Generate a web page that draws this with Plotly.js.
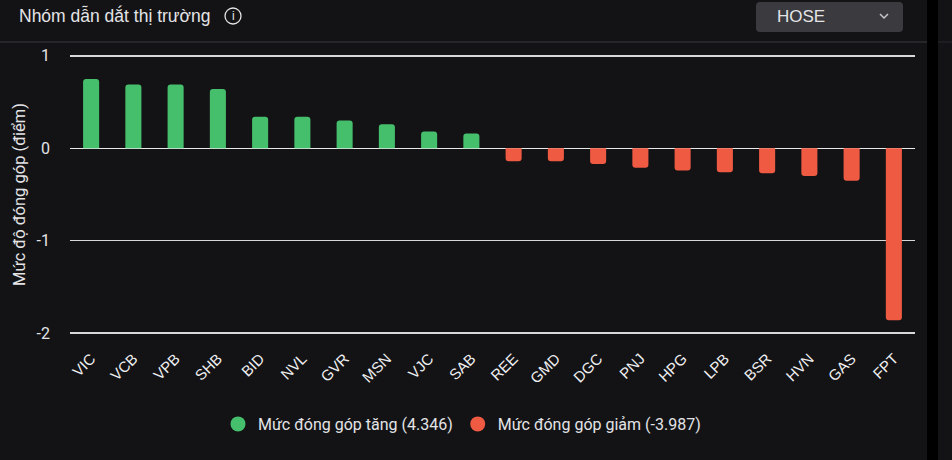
<!DOCTYPE html>
<html>
<head>
<meta charset="utf-8">
<script src="https://cdn.plot.ly/plotly-3.0.1.min.js"></script>
<style>
  html, body { margin: 0; padding: 0; background: #131316; }
  #chart { width: 952px; height: 460px; }
</style>
</head>
<body>
<div id="chart"></div>
<script>
// Mức đóng góp theo mã (điểm)
const gainTickers = ['VIC', 'VCB', 'VPB', 'SHB', 'BID', 'NVL', 'GVR', 'MSN', 'VJC', 'SAB'];
const gainValues = [0.75, 0.69, 0.69, 0.64, 0.34, 0.34, 0.30, 0.26, 0.18, 0.16];
const lossTickers = ['REE', 'GMD', 'DGC', 'PNJ', 'HPG', 'LPB', 'BSR', 'HVN', 'GAS', 'FPT'];
const lossValues = [-0.14, -0.14, -0.17, -0.21, -0.24, -0.26, -0.27, -0.30, -0.35, -1.86];
const yTickVals = [1, 0, -1, -2];
const yTickText = ['1', '0', '-1', '-2'];
const gainName = 'Mức đóng góp tăng (4.346)';
const lossName = 'Mức đóng góp giảm (-3.987)';

const W = 952, H = 460;
const M = { l: 70, r: 37, t: 53, b: 124 };
const PW = W - M.l - M.r;
const PH = H - M.t - M.b;
const px = x => (x - M.l) / PW;
const py = y => (H - M.b - y) / PH;

const green = '#46bf6c';
const red = '#ef5a43';
const textColor = '#e4e4e6';

const traces = [
  {
    type: 'bar', x: gainTickers, y: gainValues, name: gainName,
    marker: { color: green, cornerradius: 3 }, width: 0.38,
    showlegend: false, hoverinfo: 'x+y',
  },
  {
    type: 'bar', x: lossTickers, y: lossValues, name: lossName,
    marker: { color: red, cornerradius: 3 }, width: 0.38,
    showlegend: false, hoverinfo: 'x+y',
  },
  // legend entries with round markers
  {
    type: 'scatter', mode: 'markers', x: [null], y: [null], name: gainName,
    marker: { color: green, size: 15, symbol: 'circle' },
  },
  {
    type: 'scatter', mode: 'markers', x: [null], y: [null], name: lossName,
    marker: { color: red, size: 15, symbol: 'circle' },
  },
];

const layout = {
  width: W,
  height: H,
  margin: M,
  paper_bgcolor: '#131316',
  plot_bgcolor: '#131316',
  font: { family: 'Roboto, Arial, sans-serif', color: textColor, size: 13 },
  xaxis: {
    type: 'category',
    categoryorder: 'array',
    categoryarray: gainTickers.concat(lossTickers),
    tickangle: -45,
    tickfont: { family: 'Arial, "Liberation Sans", sans-serif', size: 15, color: '#f0f0f2' },
    ticklabelstandoff: 10,
    showgrid: false,
    showline: false,
    ticks: '',
    fixedrange: true,
  },
  yaxis: {
    range: [-2.03, 1.03],
    tickvals: yTickVals,
    ticktext: yTickText,
    tickfont: { size: 16, color: textColor },
    ticklabelstandoff: 19,
    gridcolor: '#d8d8d8',
    gridwidth: 1.5,
    zeroline: true,
    zerolinecolor: '#e8e8e8',
    zerolinewidth: 1.5,
    ticks: '',
    title: { text: 'Mức độ đóng góp (điểm)', font: { size: 16.5, color: textColor }, standoff: 6 },
    fixedrange: true,
  },
  legend: {
    orientation: 'h',
    x: px(462), xanchor: 'center',
    y: py(424), yanchor: 'middle',
    font: { family: 'Roboto, sans-serif', size: 16, color: textColor },
    itemwidth: 30,
    bgcolor: 'rgba(0,0,0,0)',
  },
  shapes: [
    // header separator
    { type: 'line', xref: 'paper', yref: 'paper', x0: px(0), x1: px(928), y0: py(42), y1: py(42),
      line: { color: '#3a3a3e', width: 1 } },
    { type: 'line', xref: 'paper', yref: 'paper', x0: px(938), x1: px(952), y0: py(42), y1: py(42),
      line: { color: '#2a2a2e', width: 1 } },
    // right dark strip
    { type: 'rect', xref: 'paper', yref: 'paper', x0: px(927), x1: px(938), y0: py(0), y1: py(460),
      fillcolor: '#000000', line: { width: 0 }, layer: 'above' },
    // dropdown box
    { type: 'path', xref: 'paper', yref: 'paper',
      path: `M ${px(760)} ${py(2)} L ${px(899)} ${py(2)} Q ${px(903)} ${py(2)} ${px(903)} ${py(6)} ` +
            `L ${px(903)} ${py(28)} Q ${px(903)} ${py(32)} ${px(899)} ${py(32)} ` +
            `L ${px(760)} ${py(32)} Q ${px(756)} ${py(32)} ${px(756)} ${py(28)} ` +
            `L ${px(756)} ${py(6)} Q ${px(756)} ${py(2)} ${px(760)} ${py(2)} Z`,
      fillcolor: '#3a3a3f', line: { width: 0 } },
    // chevron
    { type: 'path', xref: 'paper', yref: 'paper',
      path: `M ${px(880)} ${py(14)} L ${px(884)} ${py(18)} L ${px(888)} ${py(14)}`,
      line: { color: '#c8c8cc', width: 1.5 } },
    // info icon circle
    { type: 'circle', xref: 'paper', yref: 'paper', x0: px(225), x1: px(241), y0: py(8), y1: py(24),
      line: { color: textColor, width: 1.3 } },
  ],
  annotations: [
    { text: 'Nhóm dẫn dắt thị trường', xref: 'paper', yref: 'paper', x: px(17), y: py(16),
      xanchor: 'left', yanchor: 'middle', showarrow: false,
      font: { family: 'Arial, "Liberation Sans", sans-serif', size: 17.5, color: textColor } },
    { text: 'i', xref: 'paper', yref: 'paper', x: px(233), y: py(16),
      xanchor: 'center', yanchor: 'middle', showarrow: false,
      font: { family: 'Arial, sans-serif', size: 12, color: textColor } },
    { text: 'HOSE', xref: 'paper', yref: 'paper', x: px(775), y: py(17),
      xanchor: 'left', yanchor: 'middle', showarrow: false,
      font: { family: 'Arial, sans-serif', size: 17, color: textColor } },
  ],
};

Plotly.newPlot('chart', traces, layout, { displayModeBar: false, staticPlot: true });
</script>
</body>
</html>
